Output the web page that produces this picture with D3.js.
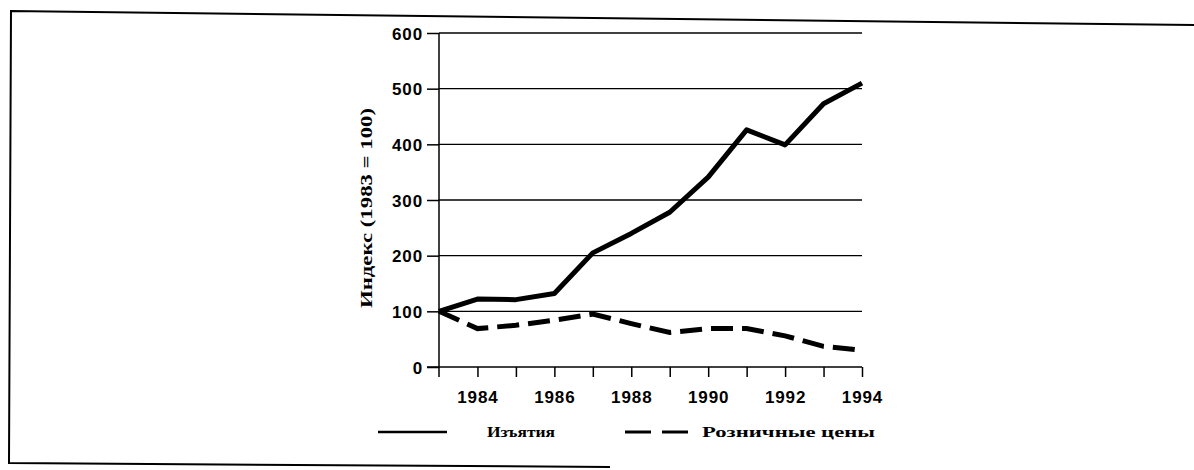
<!DOCTYPE html>
<html>
<head>
<meta charset="utf-8">
<script src="https://cdn.jsdelivr.net/npm/d3@7"></script>
<style>
    body { margin: 0; background: #fff; }
    svg { display: block; }
    .tick-label { font-family: "Liberation Sans", Arial, sans-serif; font-weight: bold; font-size: 17px; letter-spacing: 0.9px; }
    .serif-bold { font-family: "Liberation Serif", "Times New Roman", serif; font-weight: bold; }
</style>
</head>
<body>
<svg id="chart" width="1194" height="470"></svg>
<script>
// Data
const years = [1983, 1984, 1985, 1986, 1987, 1988, 1989, 1990, 1991, 1992, 1993, 1994];
const withdrawals = [100, 122, 121, 132, 205, 240, 278, 341, 426, 399, 473, 510];
const retailPrices = [100, 69, 75, 84, 95, 78, 62, 69, 69, 56, 37, 30];
const yTicks = [0, 100, 200, 300, 400, 500, 600];
const xTicks = [1984, 1986, 1988, 1990, 1992, 1994];
const seriesNames = ["Изъятия", "Розничные цены"];
const yLabel = "Индекс (1983 = 100)";

const svg = d3.select("#chart");

// Scanned frame around the figure
svg.append("path")
    .attr("d", "M1194,25 L11,11 L9,463 L610,467")
    .attr("fill", "none")
    .attr("stroke", "#000")
    .attr("stroke-width", 2);

const x = d3.scaleLinear().domain([1983, 1994]).range([439, 862]);
const y = d3.scaleLinear().domain([0, 600]).range([367, 33]);

const g = svg.append("g");

// Horizontal grid lines
g.selectAll(".grid")
    .data(yTicks.filter(d => d > 0))
    .enter()
    .append("line")
    .attr("x1", x(1983))
    .attr("x2", x(1994))
    .attr("y1", d => y(d))
    .attr("y2", d => y(d))
    .style("stroke", "#000")
    .style("stroke-width", 1.3);

// Y axis
const yAxis = d3.axisLeft(y).tickValues(yTicks).tickSize(12).tickPadding(4);
const yG = g.append("g").attr("transform", `translate(${x(1983)},0)`).call(yAxis);
yG.select(".domain").remove();
yG.selectAll("line").style("stroke", "#000").style("stroke-width", 1.5);
yG.selectAll("text").attr("class", "tick-label").attr("fill", "#000").attr("dy", "0.36em");
g.append("line")
    .attr("x1", x(1983)).attr("x2", x(1983))
    .attr("y1", y(600)).attr("y2", y(0) + 10)
    .style("stroke", "#000").style("stroke-width", 1.5);

// X axis
const xAxis = d3.axisBottom(x).tickValues(d3.range(1984, 1995)).tickSize(10).tickFormat(d => xTicks.includes(d) ? d : "");
const xG = g.append("g").attr("transform", `translate(0,${y(0)})`).call(xAxis);
xG.select(".domain").remove();
xG.selectAll("line").style("stroke", "#000").style("stroke-width", 1.5);
xG.selectAll("text").attr("class", "tick-label").attr("fill", "#000").attr("y", 24).attr("dy", "0.71em");
g.append("line")
    .attr("x1", x(1983) - 12).attr("x2", x(1994))
    .attr("y1", y(0)).attr("y2", y(0))
    .style("stroke", "#000").style("stroke-width", 1.5);

// Y label
g.append("text")
    .attr("class", "serif-bold")
    .attr("transform", `translate(372,208) rotate(-90)`)
    .attr("text-anchor", "middle")
    .style("font-size", "17px")
    .attr("textLength", 200)
    .attr("lengthAdjust", "spacingAndGlyphs")
    .text(yLabel);

// Series lines
const line = d3.line()
    .x((d, i) => x(years[i]))
    .y(d => y(d));

g.append("path")
    .datum(withdrawals)
    .attr("d", line)
    .attr("fill", "none")
    .attr("stroke", "#000")
    .attr("stroke-width", 5)
    .attr("stroke-linejoin", "round");

g.append("path")
    .datum(retailPrices)
    .attr("d", line)
    .attr("fill", "none")
    .attr("stroke", "#000")
    .attr("stroke-width", 5)
    .attr("stroke-dasharray", "22,9");

// Legend
const legend = svg.append("g").attr("transform", "translate(0,432)");
legend.append("line")
    .attr("x1", 378).attr("x2", 447).attr("y1", 0).attr("y2", 0)
    .style("stroke", "#000").style("stroke-width", 2.5);
legend.append("text")
    .attr("class", "serif-bold")
    .attr("x", 487).attr("y", 5)
    .style("font-size", "15px")
    .attr("textLength", 68)
    .attr("lengthAdjust", "spacingAndGlyphs")
    .text(seriesNames[0]);
legend.append("line")
    .attr("x1", 625).attr("x2", 690).attr("y1", 0).attr("y2", 0)
    .style("stroke", "#000").style("stroke-width", 3)
    .style("stroke-dasharray", "26,11");
legend.append("text")
    .attr("class", "serif-bold")
    .attr("x", 702).attr("y", 5)
    .style("font-size", "15px")
    .attr("textLength", 173)
    .attr("lengthAdjust", "spacingAndGlyphs")
    .text(seriesNames[1]);
</script>
</body>
</html>
